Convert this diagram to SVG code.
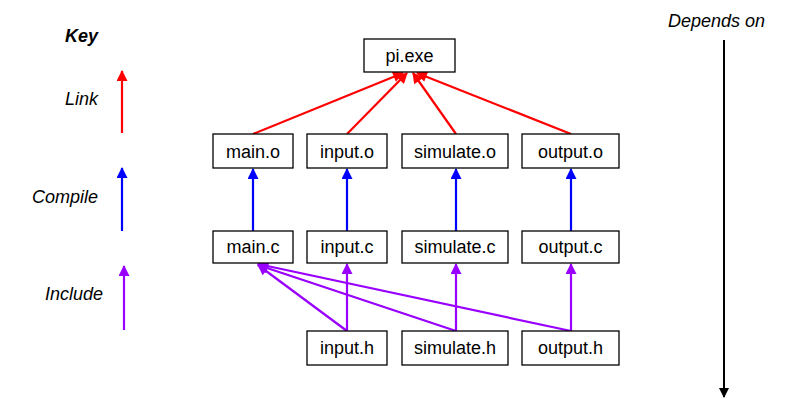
<svg xmlns="http://www.w3.org/2000/svg" width="795" height="413" viewBox="0 0 795 413">
<defs>
<style>
.box{fill:#fff;stroke:#000;stroke-width:1.3}
.lbl{font-family:"Liberation Sans",Arial,sans-serif;font-size:18px;fill:#000;text-anchor:middle}
.key{font-family:"Liberation Sans",Arial,sans-serif;font-size:18px;font-style:italic;fill:#000}
.red{stroke:#f00;stroke-width:2.2;fill:none;marker-end:url(#ar)}
.blue{stroke:#00f;stroke-width:2.2;fill:none;marker-end:url(#ab)}
.pur{stroke:#90f;stroke-width:2.2;fill:none;marker-end:url(#ap)}
.blk{stroke:#000;stroke-width:2;fill:none;marker-end:url(#ak)}
</style>
<marker id="ar" viewBox="0 0 10 10" refX="9" refY="5" markerWidth="5.5" markerHeight="5" orient="auto" markerUnits="strokeWidth"><path d="M0,0L10,5L0,10z" fill="#f00"/></marker>
<marker id="ab" viewBox="0 0 10 10" refX="9" refY="5" markerWidth="5.5" markerHeight="5" orient="auto" markerUnits="strokeWidth"><path d="M0,0L10,5L0,10z" fill="#00f"/></marker>
<marker id="ap" viewBox="0 0 10 10" refX="9" refY="5" markerWidth="5.5" markerHeight="5" orient="auto" markerUnits="strokeWidth"><path d="M0,0L10,5L0,10z" fill="#90f"/></marker>
<marker id="ak" viewBox="0 0 10 10" refX="9" refY="5" markerWidth="6" markerHeight="5" orient="auto" markerUnits="strokeWidth"><path d="M0,0L10,5L0,10z" fill="#000"/></marker>
</defs>
<rect width="795" height="413" fill="#fff"/>
<g id="key">
<text class="key" x="65" y="42" font-weight="bold">Key</text>
<text class="key" x="65" y="105">Link</text>
<text class="key" x="32" y="203">Compile</text>
<text class="key" x="45" y="300">Include</text>
<line class="red" x1="122" y1="133" x2="122" y2="71"/>
<line class="blue" x1="122" y1="231" x2="122" y2="168"/>
<line class="pur" x1="124" y1="330" x2="124" y2="266"/>
<text class="key" x="668" y="27">Depends on</text>
<line class="blk" x1="724" y1="40" x2="724" y2="397"/>
</g>
<g id="connectors">
<line class="red" x1="253" y1="134" x2="403" y2="73"/>
<line class="red" x1="347" y1="134" x2="407" y2="73"/>
<line class="red" x1="456" y1="134" x2="413" y2="73"/>
<line class="red" x1="571" y1="134" x2="417" y2="73"/>
<line class="blue" x1="253" y1="231" x2="253" y2="169"/>
<line class="blue" x1="347" y1="231" x2="347" y2="169"/>
<line class="blue" x1="456" y1="231" x2="456" y2="169"/>
<line class="blue" x1="571" y1="231" x2="571" y2="169"/>
<line class="pur" x1="347" y1="331" x2="347" y2="264"/>
<line class="pur" x1="456" y1="331" x2="456" y2="264"/>
<line class="pur" x1="571" y1="331" x2="571" y2="264"/>
<line class="pur" x1="347" y1="331" x2="258" y2="265"/>
<line class="pur" x1="456" y1="331" x2="258" y2="265"/>
<line class="pur" x1="571" y1="331" x2="258" y2="264"/>
</g>
<g id="pi_exe"><rect class="box" x="364" y="39" width="91" height="33"/><text class="lbl" x="409.5" y="62">pi.exe</text></g>
<g id="main_o"><rect class="box" x="213" y="134" width="80" height="34"/><text class="lbl" x="253" y="158">main.o</text></g>
<g id="input_o"><rect class="box" x="307" y="134" width="80" height="34"/><text class="lbl" x="347" y="158">input.o</text></g>
<g id="simulate_o"><rect class="box" x="402" y="134" width="106" height="34"/><text class="lbl" x="455" y="158">simulate.o</text></g>
<g id="output_o"><rect class="box" x="522" y="134" width="97" height="34"/><text class="lbl" x="570.5" y="158">output.o</text></g>
<g id="main_c"><rect class="box" x="213" y="231" width="80" height="32"/><text class="lbl" x="253" y="253">main.c</text></g>
<g id="input_c"><rect class="box" x="307" y="231" width="80" height="32"/><text class="lbl" x="347" y="253">input.c</text></g>
<g id="simulate_c"><rect class="box" x="402" y="231" width="106" height="32"/><text class="lbl" x="455" y="253">simulate.c</text></g>
<g id="output_c"><rect class="box" x="522" y="231" width="97" height="32"/><text class="lbl" x="570.5" y="253">output.c</text></g>
<g id="input_h"><rect class="box" x="307" y="331" width="80" height="34"/><text class="lbl" x="347" y="354">input.h</text></g>
<g id="simulate_h"><rect class="box" x="402" y="331" width="106" height="34"/><text class="lbl" x="455" y="354">simulate.h</text></g>
<g id="output_h"><rect class="box" x="522" y="331" width="97" height="34"/><text class="lbl" x="570.5" y="354">output.h</text></g>
</svg>
